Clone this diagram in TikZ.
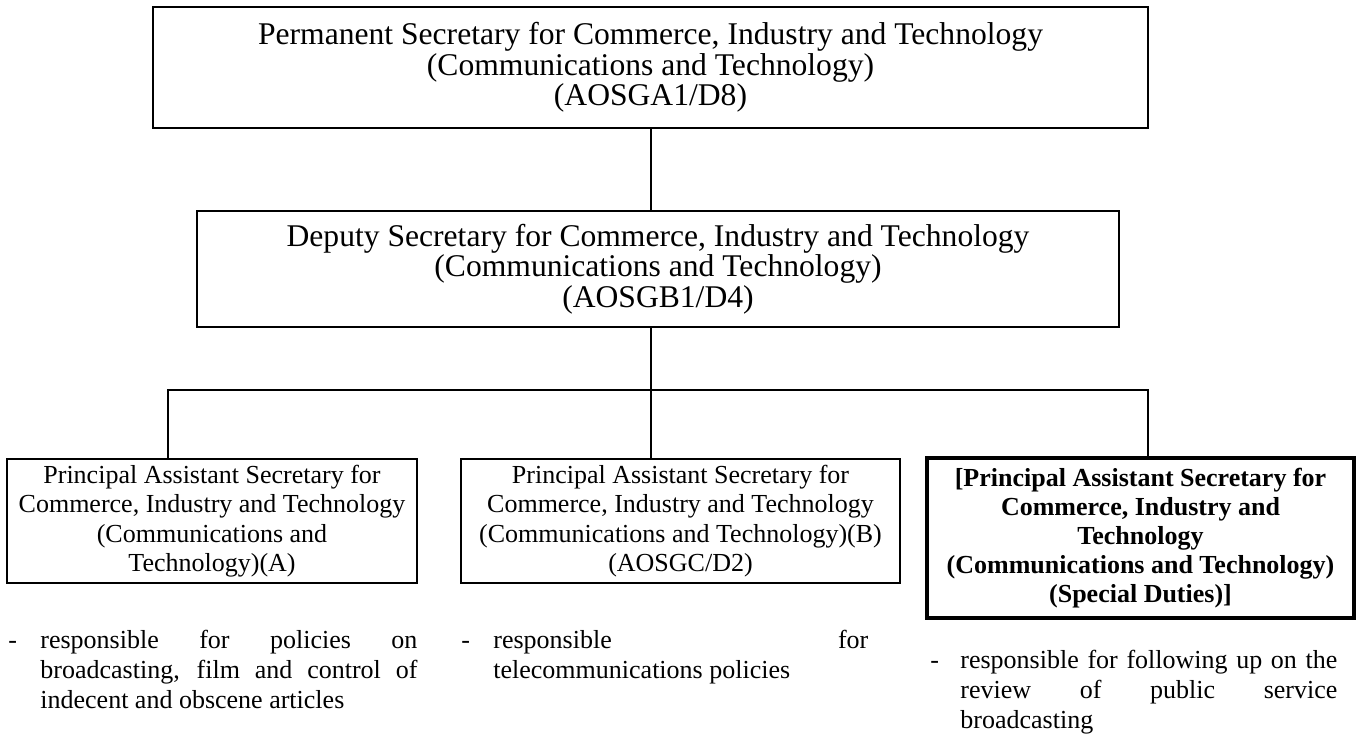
\documentclass[tikz,border=0pt]{standalone}
\usepackage{fontspec}
\setmainfont{Liberation Serif}
\tikzset{
  post/.style={draw, line width=1pt, align=center, inner sep=2pt,
    font=\fontsize{13pt}{14.75pt}\selectfont},
  toppost/.style={post, font=\fontsize{15.8pt}{15.25pt}\selectfont},
  duty/.style={align=justify, inner sep=0pt, anchor=base west,
    font=\fontsize{13pt}{15pt}\selectfont},
}
\begin{document}
\begin{tikzpicture}[x=0.5pt, y=-0.5pt]
        \useasboundingbox (0,0) rectangle (1359,736);

        \node[toppost, minimum width=497.5pt, minimum height=60.5pt] (PS) at (650.5,67.5)
          {Permanent Secretary for Commerce, Industry and Technology\\(Communications and Technology)\\(AOSGA1/D8)};
        \node[toppost, minimum width=461pt, minimum height=58pt] (DS) at (658,269)
          {Deputy Secretary for Commerce, Industry and Technology\\(Communications and Technology)\\(AOSGB1/D4)};

        \node[post, minimum width=205pt, minimum height=62pt] (PASA) at (212,521)
          {Principal Assistant Secretary for\\Commerce, Industry and Technology\\(Communications and\\Technology)(A)};
        \node[post, minimum width=219.5pt, minimum height=62pt] (PASB) at (680.5,521)
          {Principal Assistant Secretary for\\Commerce, Industry and Technology\\(Communications and Technology)(B)\\(AOSGC/D2)};
        \node[post, line width=2pt, font=\fontsize{13pt}{14.5pt}\selectfont\bfseries,
          minimum width=213.5pt, minimum height=80pt] (PASC) at (1140.5,538)
          {[Principal Assistant Secretary for\\Commerce, Industry and\\Technology\\(Communications and Technology)\\(Special Duties)]};

        \coordinate (J) at (651,390);
        \coordinate (JA) at (168,390);
        \coordinate (JC) at (1148,390);

        \draw[line width=0.9pt] (PS.south -| J) -- (DS.north -| J);
        \draw[line width=0.9pt] (DS.south -| J) -- (J);
        \draw[line width=0.9pt] (JA |- PASA.north) -- (JA) -- (JC) -- (JC |- PASC.north);
        \draw[line width=0.9pt] (J) -- (J |- PASB.north);

        \node[duty, text width=204.5pt] (dutyA) at (8,648)
          {\hangindent=16pt\hangafter=1\noindent\makebox[16pt][l]{-}responsible for policies on\linebreak broadcasting, film and control of\linebreak indecent and obscene articles\par};
        \node[duty, text width=203.5pt] (dutyB) at (461,648)
          {\hangindent=16pt\hangafter=1\noindent\makebox[16pt][l]{-}responsible for\linebreak telecommunications policies\par};
        \node[duty, text width=203.5pt] (dutyC) at (930,668)
          {\hangindent=15pt\hangafter=1\noindent\makebox[15pt][l]{-}responsible for following up on the\linebreak review of public service\linebreak broadcasting\par};
\end{tikzpicture}
\end{document}
